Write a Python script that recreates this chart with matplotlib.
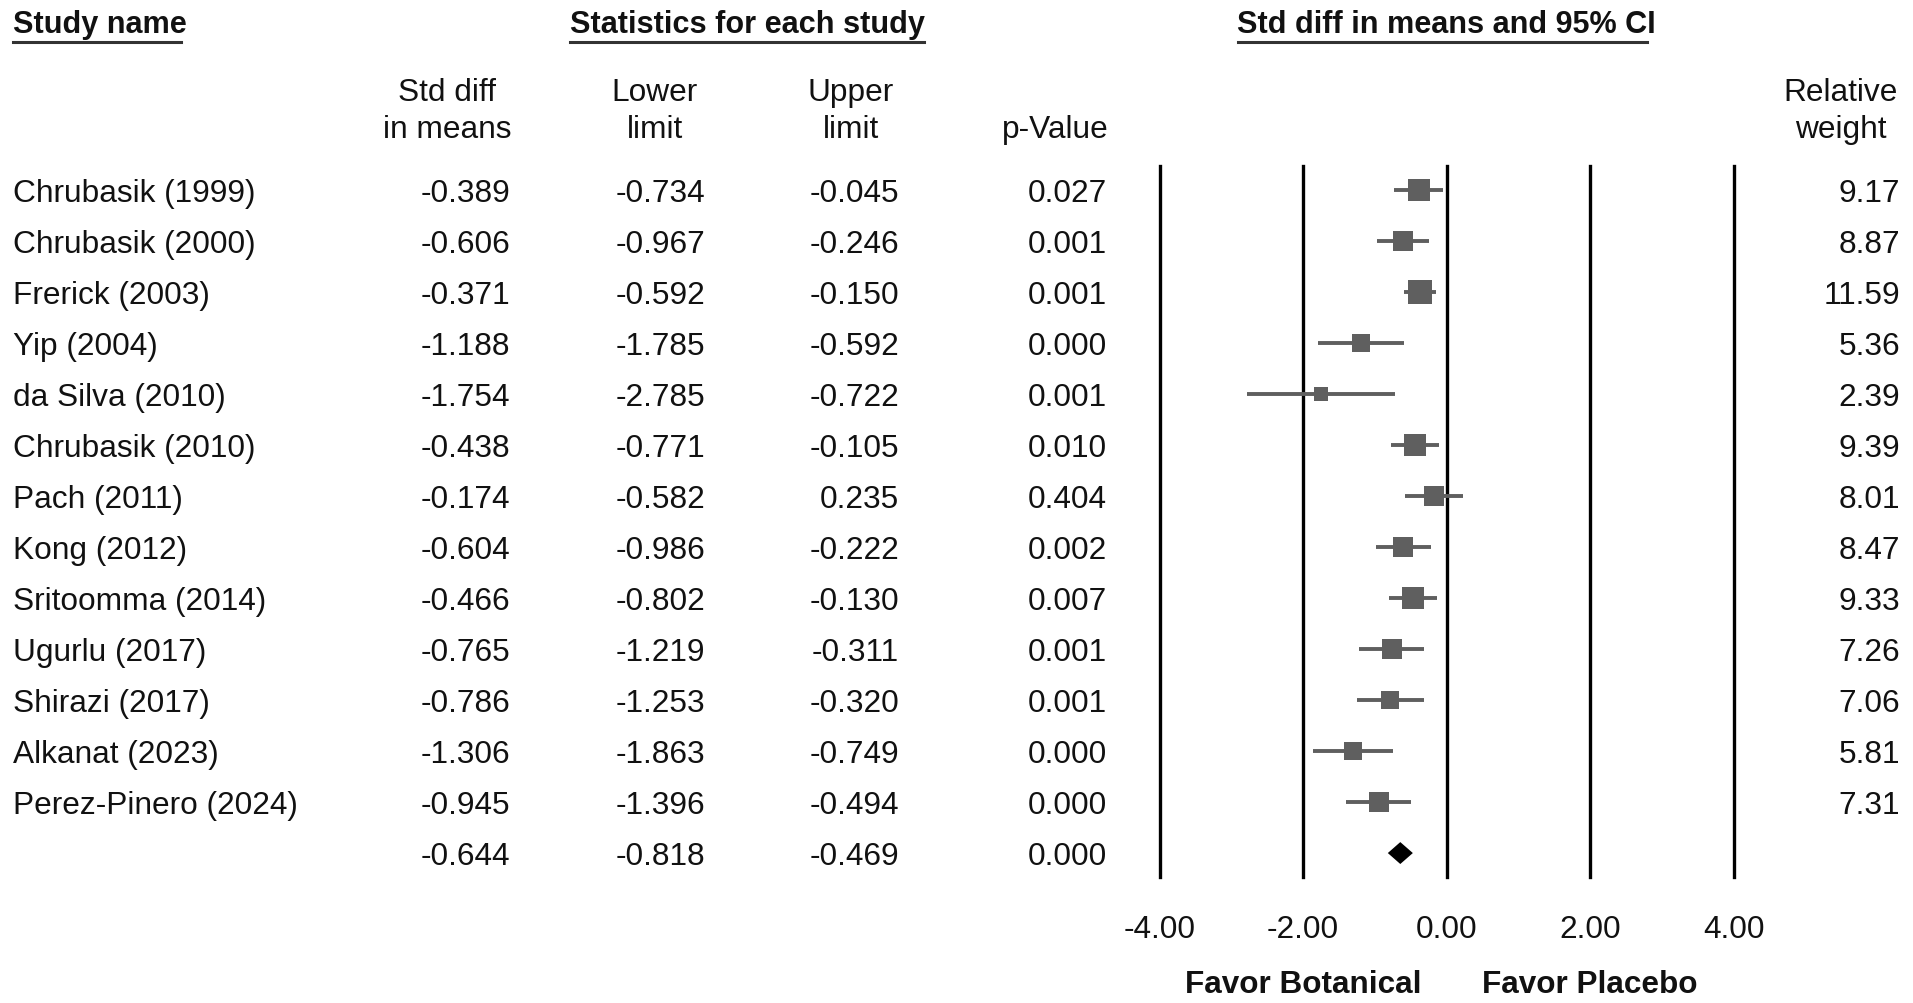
import numpy as np
import matplotlib
matplotlib.use("Agg")
import matplotlib.pyplot as plt
from matplotlib import transforms
from matplotlib.lines import Line2D

plt.rcParams['font.family'] = ['Liberation Sans', 'DejaVu Sans']

# ---------------- data ----------------
studies = ["Chrubasik (1999)", "Chrubasik (2000)", "Frerick (2003)", "Yip (2004)",
           "da Silva (2010)", "Chrubasik (2010)", "Pach (2011)", "Kong (2012)",
           "Sritoomma (2014)", "Ugurlu (2017)", "Shirazi (2017)", "Alkanat (2023)",
           "Perez-Pinero (2024)"]
smd = [-0.389, -0.606, -0.371, -1.188, -1.754, -0.438, -0.174, -0.604,
       -0.466, -0.765, -0.786, -1.306, -0.945]
lower = [-0.734, -0.967, -0.592, -1.785, -2.785, -0.771, -0.582, -0.986,
         -0.802, -1.219, -1.253, -1.863, -1.396]
upper = [-0.045, -0.246, -0.150, -0.592, -0.722, -0.105, 0.235, -0.222,
         -0.130, -0.311, -0.320, -0.749, -0.494]
pvals = [0.027, 0.001, 0.001, 0.000, 0.001, 0.010, 0.404, 0.002,
         0.007, 0.001, 0.001, 0.000, 0.000]
weights = [9.17, 8.87, 11.59, 5.36, 2.39, 9.39, 8.01, 8.47,
           9.33, 7.26, 7.06, 5.81, 7.31]
summary_smd = -0.644
summary_lower = -0.818
summary_upper = -0.469
summary_p = 0.000
xticks = [-4, -2, 0, 2, 4]
xticklabels = ["-4.00", "-2.00", "0.00", "2.00", "4.00"]

# ---------------- layout ----------------
W, H = 1913, 1004
fig = plt.figure(figsize=(W / 100, H / 100), dpi=100)

def fx(px):
    return px / W

def fy(py):
    return 1 - py / H

TXT = '#111111'
GRAY = '#5f5f5f'
FS = 22.8
HFS = 22.1
FFS = 22.7

ax = fig.add_axes([fx(1159.5), fy(878), fx(1733.5) - fx(1159.5), (878 - 167) / H])
ax.patch.set_alpha(0)
ax.set_xlim(-4, 4)
n = len(studies)
ax.set_ylim(n + 0.47, -0.48)
for s in ax.spines.values():
    s.set_visible(False)
ax.set_yticks([])
ax.set_xticks(xticks)
ax.set_xticklabels(xticklabels, fontsize=FS, color=TXT)
ax.tick_params(axis='x', length=0, pad=27)

for xv in xticks:
    ax.axvline(xv, color='black', lw=2.4, zorder=1, clip_on=False)

rows = np.arange(n)
ax.hlines(rows, lower, upper, color=GRAY, lw=2.8, zorder=2)
for yv, xv, w in zip(rows, smd, weights):
    side_px = 11.5 + 1.05 * w
    ax.plot([xv], [yv], marker='s', markersize=side_px * 0.72, color=GRAY,
            markeredgewidth=0, zorder=3)

ys = n
dh = 0.215
ax.fill([summary_lower, summary_smd, summary_upper, summary_smd],
        [ys, ys - dh, ys, ys + dh], color='black', zorder=3, lw=0)

# blended transform: x in figure fraction, y in data rows (slightly offset down)
tr = transforms.offset_copy(transforms.blended_transform_factory(fig.transFigure, ax.transData),
                            fig=fig, y=-3, units='dots')

def cell(x, y, s, ha='right'):
    fig.text(fx(x), y, s, transform=tr, ha=ha, va='center', fontsize=FS, color=TXT)

for i in range(n):
    cell(13, i, studies[i], ha='left')
    cell(510, i, f"{smd[i]:.3f}")
    cell(705, i, f"{lower[i]:.3f}")
    cell(899, i, f"{upper[i]:.3f}")
    cell(1107, i, f"{pvals[i]:.3f}")
    cell(1900, i, f"{weights[i]:.2f}")

cell(510, ys, f"{summary_smd:.3f}")
cell(705, ys, f"{summary_lower:.3f}")
cell(899, ys, f"{summary_upper:.3f}")
cell(1107, ys, f"{summary_p:.3f}")

# headers
fig.text(fx(13), fy(25), "Study name", ha='left', va='center', fontsize=HFS, weight='bold', color=TXT)
fig.text(fx(747), fy(25), "Statistics for each study", ha='center', va='center', fontsize=HFS, weight='bold', color=TXT)
fig.text(fx(1446), fy(25), "Std diff in means and 95% CI", ha='center', va='center', fontsize=HFS, weight='bold', color=TXT)
for x0, x1 in [(13, 181), (570, 924), (1238, 1647)]:
    fig.add_artist(Line2D([fx(x0), fx(x1)], [fy(43), fy(43)], transform=fig.transFigure,
                          color='#333333', lw=2.2))

def head(x, y, s):
    fig.text(fx(x), fy(y), s, ha='center', va='center', fontsize=FS, color=TXT)

head(447, 93, "Std diff")
head(447, 130, "in means")
head(655, 93, "Lower")
head(655, 130, "limit")
head(851, 93, "Upper")
head(851, 130, "limit")
head(1055, 130, "p-Value")
head(1841, 93, "Relative")
head(1841, 130, "weight")

tr2 = transforms.blended_transform_factory(ax.transData, fig.transFigure)
fig.text(-2, fy(985), "Favor Botanical", transform=tr2, ha='center', va='center', fontsize=FFS, weight='bold', color=TXT)
fig.text(2, fy(985), "Favor Placebo", transform=tr2, ha='center', va='center', fontsize=FFS, weight='bold', color=TXT)

fig.savefig("out.png", dpi=100, facecolor='white')
